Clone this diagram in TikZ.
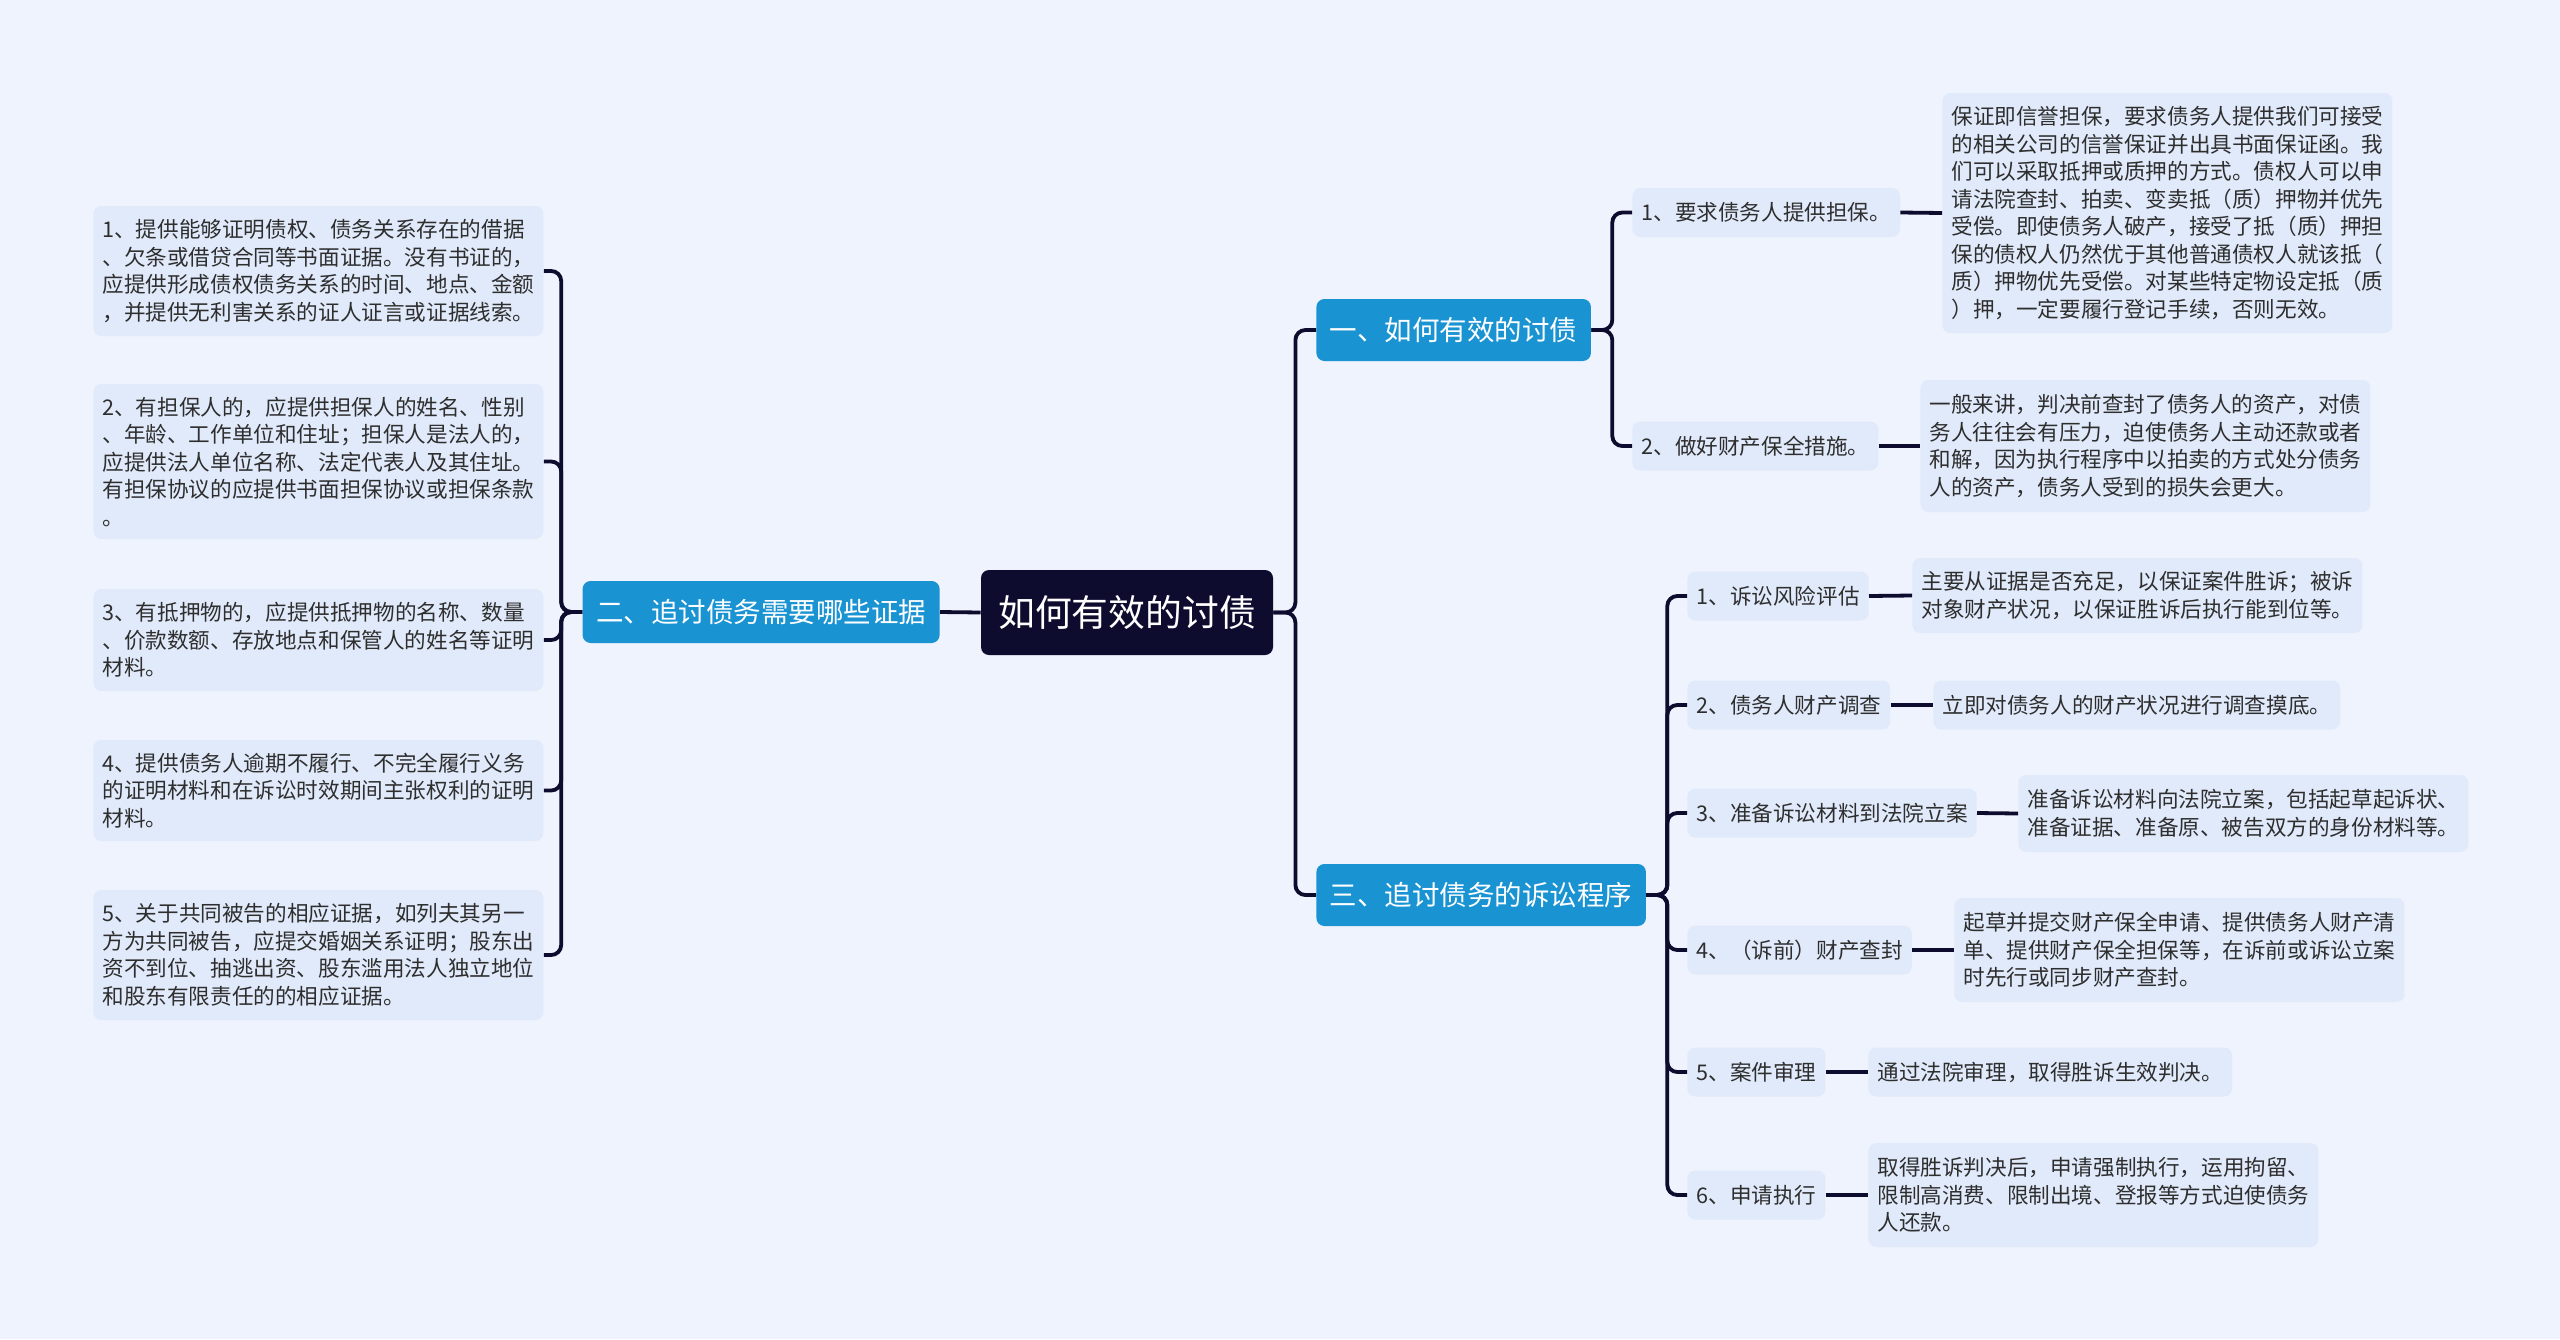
\documentclass[tikz,border=0pt]{standalone}
\usepackage{fontspec}
\setmainfont{Noto Sans CJK SC}

\definecolor{bgblue}{HTML}{EEF3FD}
\definecolor{leafblue}{HTML}{E1EAFA}
\definecolor{topicblue}{HTML}{1A93D3}
\definecolor{rootnavy}{HTML}{0D0B2E}
\definecolor{inkgray}{HTML}{2E2E2E}

\tikzset{
  leaf/.style={fill=leafblue, rounded corners=4pt, inner xsep=4.5pt, inner ysep=0pt,
    text=inkgray, font=\fontsize{10.8}{13.75}\selectfont, align=left,
    minimum height=24.5pt, anchor=west},
  leafbox/.style={leaf, text width=216pt},
  topic/.style={fill=topicblue, rounded corners=4pt, text=white, inner xsep=6.75pt,
    font=\fontsize{13.75}{16}\selectfont, minimum height=31pt, anchor=west},
  link/.style={draw=rootnavy, line width=1.9pt, rounded corners=5pt},
}

\begin{document}
\begin{tikzpicture}[x=0.5pt, y=-0.5pt]
    \useasboundingbox[fill=bgblue] (0,0) rectangle (2560,1339);

    % Centre
    \node[fill=rootnavy, rounded corners=4pt, text=white, minimum width=146pt, minimum height=42.5pt,
      font=\fontsize{18.4}{20}\selectfont] (root) at (1127,612.5) {如何有效的讨债};

    % Main topics
    \node[topic, anchor=east] (evid) at (940,612) {二、追讨债务需要哪些证据};
    \node[topic] (ways) at (1316,330) {一、如何有效的讨债};
    \node[topic] (suit) at (1316,895) {三、追讨债务的诉讼程序};

    % Left: evidence list
    \node[leafbox, minimum height=65pt] (ev1) at (93,271) {1、提供能够证明债权、债务关系存在的借据\\、欠条或借贷合同等书面证据。没有书证的，\\应提供形成债权债务关系的时间、地点、金额\\，并提供无利害关系的证人证言或证据线索。};
    \node[leafbox, minimum height=77.5pt] (ev2) at (93,461.5) {2、有担保人的，应提供担保人的姓名、性别\\、年龄、工作单位和住址；担保人是法人的，\\应提供法人单位名称、法定代表人及其住址。\\有担保协议的应提供书面担保协议或担保条款\\。};
    \node[leafbox, minimum height=51pt] (ev3) at (93,640) {3、有抵押物的，应提供抵押物的名称、数量\\、价款数额、存放地点和保管人的姓名等证明\\材料。};
    \node[leafbox, minimum height=50.5pt] (ev4) at (93,790.5) {4、提供债务人逾期不履行、不完全履行义务\\的证明材料和在诉讼时效期间主张权利的证明\\材料。};
    \node[leafbox, minimum height=65pt] (ev5) at (93,955) {5、关于共同被告的相应证据，如列夫其另一\\方为共同被告，应提交婚姻关系证明；股东出\\资不到位、抽逃出资、股东滥用法人独立地位\\和股东有限责任的的相应证据。};

    % Right top: ways
    \node[leaf] (way1) at (1632,212.5) {1、要求债务人提供担保。};
    \node[leaf] (way2) at (1632,446) {2、做好财产保全措施。};
    \node[leafbox, minimum height=120pt] (way1d) at (1942,213) {保证即信誉担保，要求债务人提供我们可接受\\的相关公司的信誉保证并出具书面保证函。我\\们可以采取抵押或质押的方式。债权人可以申\\请法院查封、拍卖、变卖抵（质）押物并优先\\受偿。即使债务人破产，接受了抵（质）押担\\保的债权人仍然优于其他普通债权人就该抵（\\质）押物优先受偿。对某些特定物设定抵（质\\）押，一定要履行登记手续，否则无效。};
    \node[leafbox, minimum height=66pt] (way2d) at (1920,446) {一般来讲，判决前查封了债务人的资产，对债\\务人往往会有压力，迫使债务人主动还款或者\\和解，因为执行程序中以拍卖的方式处分债务\\人的资产，债务人受到的损失会更大。};

    % Right bottom: lawsuit steps
    \node[leaf] (st1) at (1687,596) {1、诉讼风险评估};
    \node[leaf] (st2) at (1687,705) {2、债务人财产调查};
    \node[leaf] (st3) at (1687,813) {3、准备诉讼材料到法院立案};
    \node[leaf] (st4) at (1687,950) {4、（诉前）财产查封};
    \node[leaf] (st5) at (1687,1072) {5、案件审理};
    \node[leaf] (st6) at (1687,1195) {6、申请执行};
    \node[leafbox, minimum height=37.5pt] (st1d) at (1912,595.5) {主要从证据是否充足，以保证案件胜诉；被诉\\对象财产状况，以保证胜诉后执行能到位等。};
    \node[leaf] (st2d) at (1933,705) {立即对债务人的财产状况进行调查摸底。};
    \node[leafbox, minimum height=38.5pt] (st3d) at (2018,813.5) {准备诉讼材料向法院立案，包括起草起诉状、\\准备证据、准备原、被告双方的身份材料等。};
    \node[leafbox, minimum height=52pt] (st4d) at (1954,950) {起草并提交财产保全申请、提供债务人财产清\\单、提供财产保全担保等，在诉前或诉讼立案\\时先行或同步财产查封。};
    \node[leaf] (st5d) at (1868,1072) {通过法院审理，取得胜诉生效判决。};
    \node[leafbox, minimum height=52pt] (st6d) at (1868,1195) {取得胜诉判决后，申请强制执行，运用拘留、\\限制高消费、限制出境、登报等方式迫使债务\\人还款。};

    % Links
    \draw[link] (root.west) -- (evid.east);
    \foreach \t in {ways,suit}
        \draw[link] (root.east) -- ++(22,0) |- (\t.west);
    \foreach \t in {ev1,ev2,ev3,ev4,ev5}
        \draw[link] (evid.west) -- ++(-21,0) |- (\t.east);
    \foreach \t in {way1,way2}
        \draw[link] (ways.east) -- ++(21,0) |- (\t.west);
    \foreach \t in {st1,st2,st3,st4,st5,st6}
        \draw[link] (suit.east) -- ++(21,0) |- (\t.west);
    \foreach \t in {way1,way2,st1,st2,st3,st4,st5,st6}
        \draw[link] (\t.east) -- (\t d.west);
\end{tikzpicture}
\end{document}
